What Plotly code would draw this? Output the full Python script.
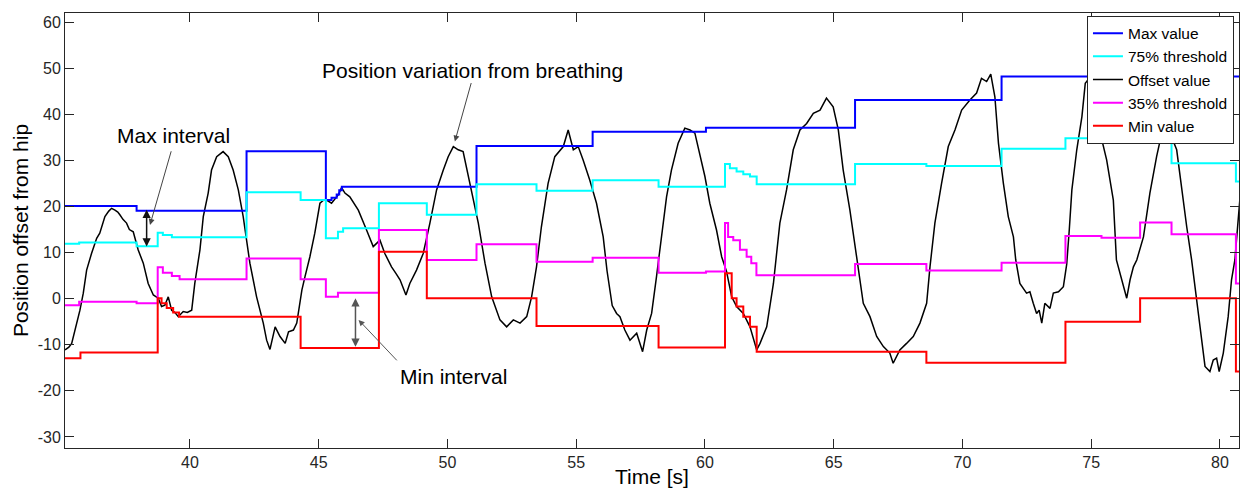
import plotly.graph_objects as go

# ---- data -----------------------------------------------------------------
# Offset value (breathing signal), time in seconds
offset_t = [35.15, 35.30, 35.41, 35.54, 35.65, 35.73, 35.86, 35.99, 36.18, 36.38, 36.50, 36.70,
            36.85, 36.96, 37.09, 37.20, 37.28, 37.40, 37.54, 37.65, 37.80, 37.99, 38.19, 38.38,
            38.58, 38.77, 38.90, 39.03, 39.16, 39.29, 39.42, 39.55, 39.74, 39.90, 40.07, 40.19,
            40.39, 40.52, 40.71, 40.84, 41.04, 41.20, 41.29, 41.49, 41.68, 41.88, 42.07, 42.33,
            42.59, 42.85, 42.98, 43.11, 43.31, 43.50, 43.70, 43.83, 44.02, 44.15, 44.35, 44.47,
            44.66, 44.85, 45.05, 45.20, 45.31, 45.50, 45.65, 45.76, 45.89, 46.02, 46.21, 46.54,
            46.86, 47.12, 47.25, 47.38, 47.57, 47.83, 48.00, 48.16, 48.39, 48.54, 48.80, 49.06,
            49.32, 49.58, 49.84, 50.03, 50.23, 50.42, 50.61, 50.81, 51.00, 51.20, 51.46, 51.72,
            52.04, 52.30, 52.56, 52.82, 53.08, 53.27, 53.46, 53.65, 53.91, 54.17, 54.50, 54.69,
            54.89, 55.08, 55.27, 55.53, 55.79, 56.05, 56.20, 56.40, 56.57, 56.70, 56.89, 57.09,
            57.35, 57.58, 57.74, 57.93, 58.12, 58.32, 58.51, 58.70, 58.96, 59.22, 59.42, 59.61,
            59.81, 60.00, 60.19, 60.45, 60.65, 60.84, 61.04, 61.23, 61.49, 61.75, 62.01, 62.14,
            62.40, 62.66, 62.91, 63.17, 63.43, 63.69, 63.95, 64.21, 64.47, 64.72, 64.98, 65.18,
            65.37, 65.63, 65.89, 66.15, 66.41, 66.67, 66.93, 67.18, 67.31, 67.57, 67.83, 68.09,
            68.35, 68.61, 68.74, 68.93, 69.19, 69.45, 69.71, 69.97, 70.29, 70.55, 70.74, 70.94,
            71.10, 71.26, 71.40, 71.59, 71.78, 71.98, 72.07, 72.23, 72.49, 72.62, 72.75, 72.88,
            72.98, 73.08, 73.20, 73.40, 73.53, 73.73, 73.92, 74.05, 74.15, 74.25, 74.44, 74.64,
            74.77, 74.95, 75.15, 75.34, 75.60, 75.86, 75.98, 76.12, 76.31, 76.38, 76.51, 76.64,
            76.77, 77.03, 77.28, 77.54, 77.74, 77.90, 78.00, 78.12, 78.32, 78.51, 78.71, 78.90,
            79.09, 79.22, 79.42, 79.61, 79.74, 79.87, 79.97, 80.13, 80.32, 80.45, 80.58, 80.78]
offset_v = [-11.1, -10.5, -9.7, -6.8, -4.5, -2.5, 1.2, 6.2, 9.8, 13.1, 14.2, 17.8,
            19.0, 19.6, 19.2, 18.8, 18.2, 17.2, 16.4, 15.0, 14.5, 10.6, 7.7, 3.3,
            0.8, 0.1, -1.7, -1.4, 0.4, -2.5, -3.0, -3.9, -2.8, -3.0, -2.5, 3.3,
            10.6, 17.8, 22.9, 27.9, 30.8, 31.5, 31.9, 30.8, 27.9, 23.6, 17.8, 7.7,
            0.4, -5.3, -9.0, -11.0, -6.1, -8.2, -9.7, -7.2, -6.8, -5.3, 1.9, 4.8,
            9.1, 14.2, 20.7, 21.4, 21.4, 20.7, 21.8, 22.5, 24.1, 22.9, 22.1, 19.2,
            14.9, 11.3, 12.0, 12.7, 9.8, 6.9, 5.5, 4.1, 0.8, 3.3, 6.2, 9.8,
            16.4, 23.6, 27.9, 30.8, 33.0, 32.3, 31.9, 26.5, 22.1, 16.4, 7.7, 0.4,
            -4.6, -6.1, -4.6, -5.3, -3.9, 0.4, 6.9, 15.6, 25.0, 30.8, 33.0, 36.6,
            32.3, 33.0, 30.1, 25.7, 20.7, 13.4, 6.0, -1.5, -3.2, -3.9, -6.8, -9.0,
            -7.5, -11.5, -6.8, -3.2, 4.8, 13.4, 22.1, 27.9, 33.7, 37.0, 36.6, 35.9,
            30.8, 26.5, 20.7, 14.9, 9.1, 5.9, 0.4, -1.7, -3.2, -6.1, -11.1, -9.7,
            -6.1, 3.3, 16.4, 23.6, 32.3, 36.6, 38.0, 40.2, 40.9, 43.5, 41.6, 36.6,
            27.9, 19.2, 9.1, -1.0, -3.9, -8.2, -10.4, -11.8, -14.0, -11.1, -9.7, -8.2,
            -5.3, -1.0, 6.9, 16.4, 25.0, 33.0, 36.6, 40.9, 43.1, 44.6, 47.8, 47.1,
            48.7, 43.8, 33.7, 25.0, 17.8, 13.4, 8.4, 3.3, 1.2, 1.5, -1.0, -3.2,
            -2.5, -5.3, -1.0, -2.1, 1.2, 1.5, 2.6, 7.5, 15.0, 23.6, 32.3, 39.5,
            46.7, 48.0, 44.0, 36.2, 30.1, 21.4, 8.4, 5.5, 1.9, 0.1, 4.1, 6.9,
            8.4, 13.4, 22.9, 30.8, 35.9, 38.5, 38.0, 35.1, 32.3, 23.6, 15.6, 8.4,
            -0.3, -6.8, -14.7, -15.8, -13.3, -12.9, -15.8, -11.8, -3.9, 4.1, 8.4, 22.0]

# Max value (step)
max_t = [35.15, 37.93, 42.20, 45.28, 45.50, 45.70, 45.80, 45.90, 51.13, 55.64, 60.04, 65.83, 71.52, 80.80]
max_v = [20.1, 19.1, 32.0, 21.4, 21.9, 22.6, 23.5, 24.3, 33.1, 36.2, 37.1, 43.1, 48.2, 48.2]

# 75% threshold (step)
thr75_t = [35.15, 35.70, 37.93, 38.75, 38.95, 39.30, 42.20, 44.30, 45.28, 45.75, 45.95, 47.34,
           49.20, 51.13, 53.46, 55.64, 58.20, 60.78, 60.97, 61.23, 61.49, 61.75, 62.01, 65.83,
           68.60, 71.52, 74.00, 76.90, 78.12, 80.62, 80.80]
thr75_v = [11.9, 12.2, 11.4, 14.3, 13.8, 13.3, 23.1, 21.4, 13.1, 14.5, 15.3, 20.7,
           18.2, 24.8, 23.4, 25.7, 24.3, 29.2, 28.3, 27.6, 27.0, 26.5, 24.8, 29.2,
           28.8, 32.5, 34.8, 35.4, 29.4, 25.4, 25.4]

# 35% threshold (step)
thr35_t = [35.15, 35.70, 37.93, 38.75, 38.95, 39.30, 39.60, 42.20, 44.30, 45.28, 45.75, 47.34,
           49.20, 51.13, 53.46, 55.64, 58.20, 60.04, 60.78, 60.90, 61.10, 61.36, 61.62, 61.80,
           62.00, 65.83, 68.60, 71.52, 74.00, 75.40, 76.90, 78.12, 80.62, 80.80]
thr35_v = [-1.4, -0.65, -1.0, 6.8, 5.6, 4.9, 4.2, 8.7, 4.2, 0.4, 1.3, 14.9,
           8.4, 11.8, 8.0, 8.9, 5.6, 5.9, 16.4, 13.4, 12.7, 10.6, 9.1, 7.7,
           5.1, 7.5, 6.1, 7.8, 13.6, 13.2, 16.5, 14.0, 3.3, 3.3]

# Min value (step)
min_t = [35.15, 35.75, 38.75, 38.90, 39.10, 39.35, 39.58, 44.30, 47.34, 49.20, 53.46, 58.20,
         60.78, 61.04, 61.23, 61.49, 61.75, 62.01, 68.60, 74.00, 76.90, 80.62, 80.80]
min_v = [-12.9, -11.7, 0.1, -1.0, -2.0, -3.0, -3.9, -10.7, 10.2, 0.1, -5.9, -10.6,
         5.5, 0.1, -1.7, -3.9, -6.1, -11.5, -13.9, -5.0, 0.1, -15.8, -15.8]

x_ticks = [40, 45, 50, 55, 60, 65, 70, 75, 80]
y_ticks = [-30, -20, -10, 0, 10, 20, 30, 40, 50, 60]
y_tick_text = ["-30", "-20", "-10", "0", "10", "20", "30", "40", "50", "60"]

FONT = "Liberation Sans, Arial, sans-serif"

fig = go.Figure()

# offset curve drawn first so the step lines sit on top of it
fig.add_trace(go.Scatter(x=offset_t, y=offset_v, mode="lines", name="Offset value",
                         line=dict(color="black", width=1.5), legendrank=3))
fig.add_trace(go.Scatter(x=max_t, y=max_v, mode="lines", name="Max value",
                         line=dict(color="#0000ff", width=2, shape="hv"), legendrank=1))
fig.add_trace(go.Scatter(x=thr75_t, y=thr75_v, mode="lines", name="75% threshold",
                         line=dict(color="#00ffff", width=2, shape="hv"), legendrank=2))
fig.add_trace(go.Scatter(x=thr35_t, y=thr35_v, mode="lines", name="35% threshold",
                         line=dict(color="#ff00ff", width=2, shape="hv"), legendrank=4))
fig.add_trace(go.Scatter(x=min_t, y=min_v, mode="lines", name="Min value",
                         line=dict(color="#ff0000", width=2, shape="hv"), legendrank=5))

annotations = []


def arrow(x0, y0, x1, y1, both=False, color="#333333", width=1, size=1.2):
    annotations.append(dict(x=x1, y=y1, ax=x0, ay=y0, xref="x", yref="y", axref="x", ayref="y",
                            text="", showarrow=True, arrowhead=2, arrowsize=size,
                            arrowwidth=width, arrowcolor=color,
                            arrowside="end+start" if both else "end"))


def label(x, y, text):
    annotations.append(dict(x=x, y=y, xref="x", yref="y", text=text, showarrow=False,
                            font=dict(family=FONT, size=21, color="black")))


# Max interval
label(39.35, 35.3, "Max interval")
arrow(38.32, 19.6, 38.32, 11.3, both=True, color="#111111", width=1.5, size=1.1)
arrow(39.29, 32.3, 38.45, 16.0, color="#444444")

# Position variation from breathing
label(50.97, 49.4, "Position variation from breathing")
arrow(50.94, 47.1, 50.29, 34.1, color="#444444")

# Min interval
label(50.25, -16.8, "Min interval")
arrow(46.43, 0.4, 46.43, -10.4, both=True, color="#555555", width=1.5, size=1.1)
arrow(48.09, -13.7, 46.55, -4.6, color="#555555")

axis_common = dict(showline=True, linecolor="#262626", linewidth=1, mirror="ticks",
                   ticks="inside", ticklen=9, tickcolor="#262626", showgrid=False,
                   zeroline=False, tickfont=dict(family=FONT, size=16, color="#262626"))

fig.update_layout(
    width=1240, height=488,
    margin=dict(l=65, r=1, t=13, b=40),
    paper_bgcolor="white", plot_bgcolor="white",
    font=dict(family=FONT, color="black"),
    xaxis=dict(range=[35.15, 80.74], tickvals=x_ticks,
               title=dict(text="Time [s]", font=dict(family=FONT, size=21, color="black"),
                          standoff=2),
               **axis_common),
    yaxis=dict(range=[-32.39, 61.97], tickvals=y_ticks, ticktext=y_tick_text,
               title=dict(text="Position offset from hip",
                          font=dict(family=FONT, size=21, color="black"), standoff=3),
               **axis_common),
    legend=dict(x=0.8705, y=0.994, xanchor="left", yanchor="top",
                bgcolor="white", bordercolor="#262626", borderwidth=1,
                font=dict(family=FONT, size=15.5, color="black"),
                tracegroupgap=0, itemwidth=30),
    annotations=annotations,
    showlegend=True,
)

fig.write_html("out.html")
